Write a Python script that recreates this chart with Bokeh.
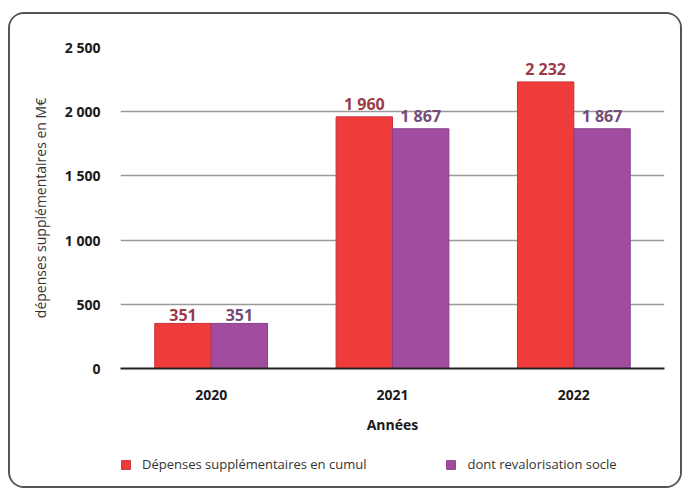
from bokeh.plotting import figure
from bokeh.layouts import column
from bokeh.models import (ColumnDataSource, FactorRange, Range1d, LabelSet, Legend,
                          LegendItem, FixedTicker)
from bokeh.transform import dodge
from bokeh.core.properties import value
from bokeh.embed import file_html
from bokeh.resources import INLINE

years = ["2020", "2021", "2022"]
cumul = [351, 1960, 2232]
socle = [351, 1867, 1867]
y_ticks = [0, 500, 1000, 1500, 2000, 2500]
y_tick_labels = ["0", "500", "1 000", "1 500", "2 000", "2 500"]
series_names = ["Dépenses supplémentaires en cumul", "dont revalorisation socle"]

def fmt(v):
    return f"{v:,}".replace(",", " ")

src = ColumnDataSource(dict(
    year=years, cumul=cumul, socle=socle,
    cumul_lbl=[fmt(v) for v in cumul], socle_lbl=[fmt(v) for v in socle],
))

FONT = "Open Sans"
RED = "#ef3c3a"
PURPLE = "#a24c9f"
RED_EDGE = "#c8303a"
PURPLE_EDGE = "#8a3f88"

p = figure(width=670, height=440, output_backend="svg", toolbar_location=None,
           x_range=FactorRange(*years, range_padding=0), y_range=Range1d(0, 2500),
           min_border_left=110, min_border_top=33, min_border_right=16,
           min_border_bottom=86)
p.outline_line_color = None
p.background_fill_color = "white"
p.border_fill_color = "white"

w = 0.311
r1 = p.vbar(x=dodge("year", -w / 2, range=p.x_range), top="cumul", width=w, source=src,
            fill_color=RED, line_color=RED_EDGE, line_width=1)
r2 = p.vbar(x=dodge("year", w / 2, range=p.x_range), top="socle", width=w, source=src,
            fill_color=PURPLE, line_color=PURPLE_EDGE, line_width=1)

p.add_layout(LabelSet(x=dodge("year", -w / 2, range=p.x_range), y="cumul", text="cumul_lbl",
                      source=src, y_offset=2, text_align="center", text_baseline="bottom",
                      text_font=value(FONT), text_font_size="16px", text_font_style="bold",
                      text_color="#9c3a48"))
p.add_layout(LabelSet(x=dodge("year", w / 2, range=p.x_range), y="socle", text="socle_lbl",
                      source=src, y_offset=2, text_align="center", text_baseline="bottom",
                      text_font=value(FONT), text_font_size="16px", text_font_style="bold",
                      text_color="#734c78"))

p.xgrid.grid_line_color = None
p.ygrid.grid_line_color = "#9a9a9a"
p.ygrid.grid_line_width = 1.5
p.ygrid.ticker = FixedTicker(ticks=y_ticks)

p.yaxis.ticker = FixedTicker(ticks=y_ticks)
p.yaxis.major_label_overrides = {t: l for t, l in zip(y_ticks, y_tick_labels)}
p.yaxis.axis_line_color = None
p.yaxis.major_tick_line_color = None
p.yaxis.minor_tick_line_color = None
p.yaxis.major_label_standoff = 14
p.yaxis.major_label_text_font = FONT
p.yaxis.major_label_text_font_size = "14px"
p.yaxis.major_label_text_font_style = "bold"
p.yaxis.major_label_text_color = "#1a1a1a"
p.yaxis.axis_label = "dépenses supplémentaires en M€"
p.yaxis.axis_label_text_font = FONT
p.yaxis.axis_label_text_font_size = "14px"
p.yaxis.axis_label_text_font_style = "normal"
p.yaxis.axis_label_text_color = "#333333"
p.yaxis.axis_label_standoff = 12

p.xaxis.axis_line_color = "#222222"
p.xaxis.axis_line_width = 2
p.xaxis.major_tick_line_color = None
p.xaxis.minor_tick_line_color = None
p.xaxis.major_label_standoff = 15
p.xaxis.major_label_text_font = FONT
p.xaxis.major_label_text_font_size = "14px"
p.xaxis.major_label_text_font_style = "bold"
p.xaxis.major_label_text_color = "#1a1a1a"
p.xaxis.axis_label = "Années"
p.xaxis.axis_label_text_font = FONT
p.xaxis.axis_label_text_font_size = "14px"
p.xaxis.axis_label_text_font_style = "bold"
p.xaxis.axis_label_text_color = "#1a1a1a"
p.xaxis.axis_label_standoff = 12

# legend strip below the chart
lp = figure(width=670, height=32, output_backend="svg", toolbar_location=None,
            x_range=FactorRange(*years, range_padding=0), y_range=Range1d(0, 1),
            x_axis_location=None, y_axis_location=None,
            min_border_left=0, min_border_right=0, min_border_top=0, min_border_bottom=0)
lp.outline_line_color = None
lp.grid.visible = False
lp.background_fill_color = "white"
lp.border_fill_color = "white"
l1 = lp.vbar(x="year", top="cumul", width=w, source=src,
             fill_color=RED, line_color=RED_EDGE, visible=False)
l2 = lp.vbar(x="year", top="socle", width=w, source=src,
             fill_color=PURPLE, line_color=PURPLE_EDGE, visible=False)
legend = Legend(items=[LegendItem(label=series_names[0], renderers=[l1]),
                       LegendItem(label=series_names[1], renderers=[l2])],
                orientation="horizontal", location=(0, 13),
                glyph_width=11, glyph_height=11, label_height=11, label_standoff=11,
                spacing=79, padding=0, margin=0, border_line_color=None,
                background_fill_alpha=0, inactive_fill_alpha=0,
                label_text_font=FONT, label_text_font_size="13px",
                label_text_color="#333333")
lp.add_layout(legend, "center")

layout = column(p, lp, spacing=0)
layout.styles = {"border": "2px solid #555", "border-radius": "16px",
                 "background-color": "white", "overflow": "hidden"}
layout.margin = (12, 0, 0, 8)

open("out.html", "w").write(file_html(layout, INLINE))
